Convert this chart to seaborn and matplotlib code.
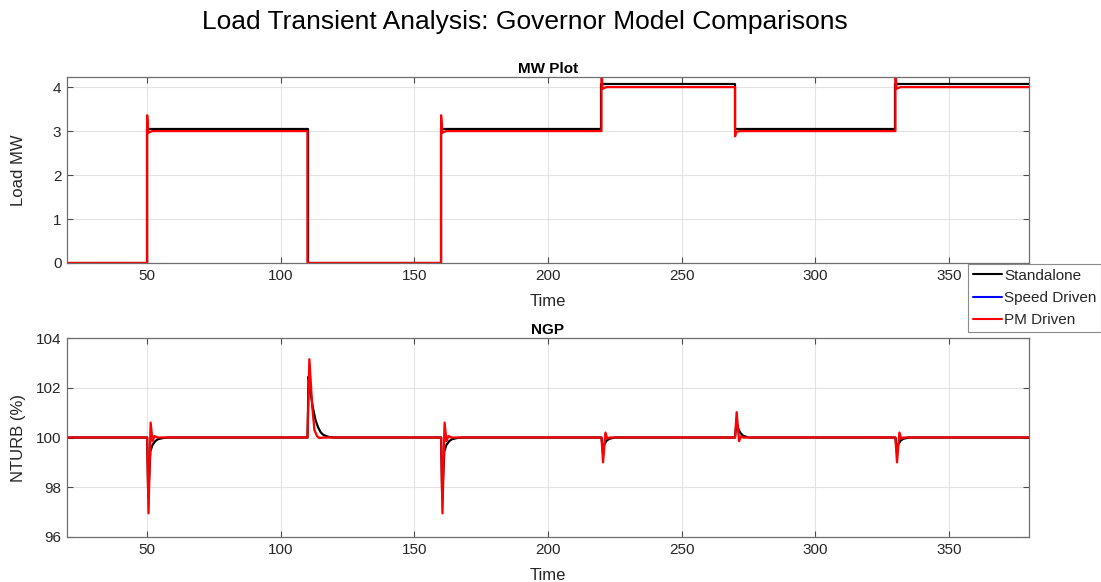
import matplotlib
matplotlib.use("Agg")
import matplotlib.pyplot as plt
import seaborn as sns
import pandas as pd

# ---- MW plot: load steps (time, value) ----
mw_t_standalone = [20, 50, 50, 110, 110, 160, 160, 220, 220, 270, 270, 330, 330, 380]
mw_standalone = [0, 0, 3.04, 3.04, 0, 0, 3.04, 3.04, 4.06, 4.06, 3.04, 3.04, 4.06, 4.06]

mw_t_speed = [20, 50, 50, 50.4, 51, 52, 110, 110, 160, 160, 160.4, 161, 162,
              220, 220, 220.4, 221, 222, 270, 270, 270.4, 271, 272,
              330, 330, 330.4, 331, 332, 380]
mw_speed = [0, 0, 3.34, 2.96, 2.98, 3.0, 3.0, 0, 0, 3.34, 2.96, 2.98, 3.0,
            3.0, 4.4, 3.96, 3.98, 4.0, 4.0, 2.89, 2.98, 2.99, 3.0,
            3.0, 4.4, 3.96, 3.98, 4.0, 4.0]

mw_t_pm = [20, 50, 50, 50.4, 51, 52, 110, 110, 160, 160, 160.4, 161, 162,
           220, 220, 220.4, 221, 222, 270, 270, 270.4, 271, 272,
           330, 330, 330.4, 331, 332, 380]
mw_pm = [0, 0, 3.36, 2.96, 2.98, 3.0, 3.0, 0, 0, 3.36, 2.96, 2.98, 3.0,
         3.0, 4.45, 3.96, 3.98, 4.0, 4.0, 2.88, 2.98, 2.99, 3.0,
         3.0, 4.45, 3.96, 3.98, 4.0, 4.0]

# ---- NGP: turbine speed (%) ----
ngp_t_standalone = [20, 50, 50.4, 51.2, 52, 53, 54, 56, 58,
                    110, 110.4, 111, 112, 113, 114, 115, 116, 118, 120,
                    160, 160.4, 161.2, 162, 163, 164, 166, 168,
                    220, 220.5, 221.2, 222, 223, 225,
                    270, 270.5, 271.2, 272, 273, 275,
                    330, 330.5, 331.2, 332, 333, 335, 380]
ngp_standalone = [100, 100, 97.6, 99.45, 99.7, 99.85, 99.93, 99.98, 100,
                  100, 102.45, 101.9, 101.2, 100.7, 100.4, 100.2, 100.1, 100.02, 100,
                  100, 97.6, 99.45, 99.7, 99.85, 99.93, 99.98, 100,
                  100, 99.55, 99.75, 99.88, 99.95, 100,
                  100, 100.6, 100.35, 100.18, 100.07, 100,
                  100, 99.55, 99.75, 99.88, 99.95, 100, 100]

ngp_t_speed = [20, 50, 50.5, 51.3, 52.0, 52.7, 54,
               110, 110.7, 111.8, 112.6, 113.6, 114.5, 116,
               160, 160.5, 161.3, 162.0, 162.7, 164,
               220, 220.6, 221.5, 222.2, 223,
               270, 270.6, 271.5, 272.2, 273,
               330, 330.6, 331.5, 332.2, 333, 380]
ngp_speed = [100, 100, 97.0, 100.55, 99.86, 100.05, 100,
             100, 103.1, 101.2, 100.3, 100.05, 99.98, 100,
             100, 97.0, 100.55, 99.86, 100.05, 100,
             100, 99.05, 100.18, 99.95, 100,
             100, 100.98, 99.86, 100.04, 100,
             100, 99.05, 100.18, 99.95, 100, 100]

ngp_t_pm = [20, 50, 50.5, 51.3, 52.0, 52.7, 54,
            110, 110.7, 111.8, 112.6, 113.6, 114.5, 116,
            160, 160.5, 161.3, 162.0, 162.7, 164,
            220, 220.6, 221.5, 222.2, 223,
            270, 270.6, 271.5, 272.2, 273,
            330, 330.6, 331.5, 332.2, 333, 380]
ngp_pm = [100, 100, 96.95, 100.6, 99.85, 100.06, 100,
          100, 103.15, 101.2, 100.3, 100.05, 99.98, 100,
          100, 96.95, 100.6, 99.85, 100.06, 100,
          100, 99.0, 100.2, 99.95, 100,
          100, 101.02, 99.85, 100.05, 100,
          100, 99.0, 100.2, 99.95, 100, 100]

series_names = ["Standalone", "Speed Driven", "PM Driven"]
series_colors = ["#000000", "#0000ff", "#ff0000"]
series_widths = [1.6, 0.8, 1.6]

x_ticks = [50, 100, 150, 200, 250, 300, 350]
mw_ticks = [0, 1, 2, 3, 4]
ngp_ticks = [96, 98, 100, 102, 104]

sns.set_theme(style="whitegrid")
plt.rcParams["font.family"] = ["Liberation Sans", "DejaVu Sans"]

fig = plt.figure(figsize=(11.01, 5.82), dpi=100)
W, H = 1101, 582
ax1 = fig.add_axes([67 / W, 1 - 263 / H, 962 / W, 186 / H])
ax2 = fig.add_axes([67 / W, 1 - 537 / H, 962 / W, 199 / H])


def frame(d_t, d_v):
    return pd.DataFrame({"t": d_t, "v": d_v})


mw_sets = [(mw_t_standalone, mw_standalone), (mw_t_speed, mw_speed), (mw_t_pm, mw_pm)]
ngp_sets = [(ngp_t_standalone, ngp_standalone), (ngp_t_speed, ngp_speed), (ngp_t_pm, ngp_pm)]

for ax, sets in ((ax1, mw_sets), (ax2, ngp_sets)):
    for name, color, lw, (tt, vv) in zip(series_names, series_colors,
                                         series_widths, sets):
        sns.lineplot(data=frame(tt, vv), x="t", y="v", ax=ax, sort=False,
                     estimator=None, color=color, linewidth=lw, label=name,
                     legend=False)

ax1.set_xlim(20, 380)
ax1.set_ylim(0, 4.23)
ax1.set_yticks(mw_ticks)
ax2.set_xlim(20, 380)
ax2.set_ylim(96, 104)
ax2.set_yticks(ngp_ticks)

for ax in (ax1, ax2):
    ax.set_xticks(x_ticks)
    ax.set_facecolor("white")
    ax.grid(True, color="#e3e3e3", linewidth=0.8)
    for sp in ax.spines.values():
        sp.set_visible(True)
        sp.set_color("#6e6e6e")
        sp.set_linewidth(0.9)
    ax.tick_params(axis="both", direction="in", length=4, width=0.8,
                   color="#4d4d4d", labelsize=11, labelcolor="#262626",
                   top=True, right=True, bottom=True, left=True, pad=4)
    ax.set_xlabel("Time", fontsize=12, color="#262626", labelpad=8)

ax1.set_ylabel("Load MW", fontsize=12, color="#262626")
ax2.set_ylabel("NTURB (%)", fontsize=12, color="#262626")
# Same left-hand position for both y labels
for ax in (ax1, ax2):
    ax.yaxis.set_label_coords(-0.043, 0.5)

ax1.set_title("MW Plot", fontsize=11, fontweight="bold", color="#000000", pad=3)
ax2.set_title("NGP", fontsize=11, fontweight="bold", color="#000000", pad=3)

fig.suptitle("Load Transient Analysis: Governor Model Comparisons",
             fontsize=19, x=525 / W, y=1 - 10 / H, va="top", color="#000000")

# Legend entries, using fresh line handles so the blue one reads clearly
handles = [plt.Line2D([], [], color=c, linewidth=1.5) for c in series_colors]
leg = fig.legend(handles, series_names, loc="upper left",
                 bbox_to_anchor=(968 / W, 1 - 264 / H), fontsize=11,
                 frameon=True, fancybox=False, handlelength=1.9,
                 handletextpad=0.15, borderpad=0.3, labelspacing=0.55,
                 borderaxespad=0)
leg.get_frame().set_edgecolor("#6e6e6e")
leg.get_frame().set_linewidth(0.8)

fig.savefig("out.png", dpi=100, facecolor="white")
